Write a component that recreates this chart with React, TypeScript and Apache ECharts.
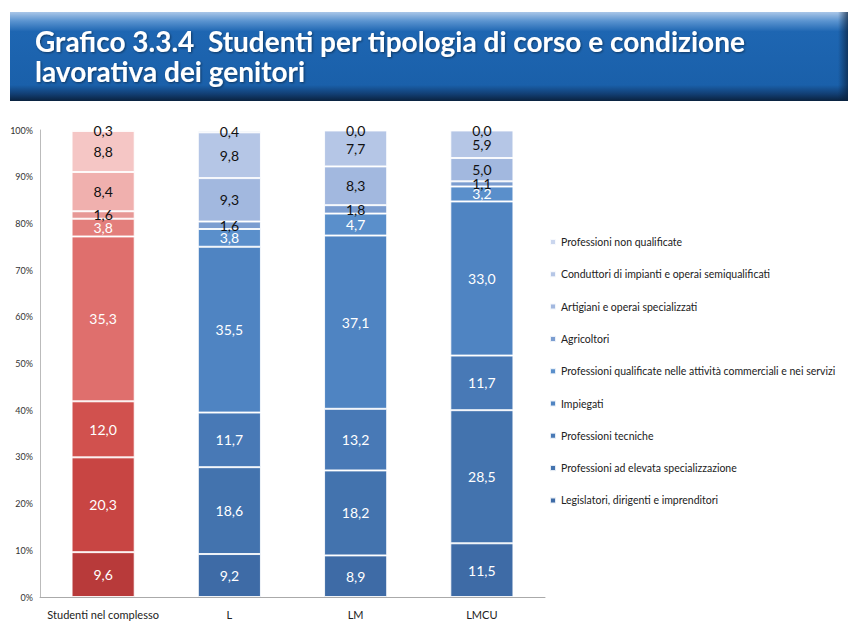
import React, { useEffect, useRef } from "react";
import * as echarts from "echarts";

const categories = ["Studenti nel complesso", "L", "LM", "LMCU"];
const seriesNames = [
  "Legislatori, dirigenti e imprenditori",
  "Professioni ad elevata specializzazione",
  "Professioni tecniche",
  "Impiegati",
  "Professioni qualificate nelle attività commerciali e nei servizi",
  "Agricoltori",
  "Artigiani e operai specializzati",
  "Conduttori di impianti e operai semiqualificati",
  "Professioni non qualificate",
];
const legislatori = [9.6, 9.2, 8.9, 11.5];
const elevata = [20.3, 18.6, 18.2, 28.5];
const tecniche = [12.0, 11.7, 13.2, 11.7];
const impiegati = [35.3, 35.5, 37.1, 33.0];
const qualificate = [3.8, 3.8, 4.7, 3.2];
const agricoltori = [1.6, 1.6, 1.8, 1.1];
const artigiani = [8.4, 9.3, 8.3, 5.0];
const conduttori = [8.8, 9.8, 7.7, 5.9];
const nonQualificate = [0.3, 0.4, 0.0, 0.0];
const seriesValues = [
  legislatori,
  elevata,
  tecniche,
  impiegati,
  qualificate,
  agricoltori,
  artigiani,
  conduttori,
  nonQualificate,
];
const yTicks = [0, 10, 20, 30, 40, 50, 60, 70, 80, 90, 100];

const blueColors = [
  "#3e6ba6",
  "#4373ae",
  "#4879b6",
  "#4f84c2",
  "#5a8fcb",
  "#7b9dd0",
  "#a2b8df",
  "#b5c6e6",
  "#cad6ee",
];
const redColors = [
  "#b83a3a",
  "#c84543",
  "#d1514e",
  "#df6f6d",
  "#e37e7b",
  "#e79896",
  "#f0b0ae",
  "#f5c6c5",
  "#f9d5d4",
];
const labelColors = ["#fff", "#fff", "#fff", "#fff", "#fff", "#111", "#111", "#111", "#111"];

const FONT = "Lato, 'Open Sans', sans-serif";

export default function App() {
  const ref = useRef<HTMLDivElement>(null);
  useEffect(() => {
    if (!ref.current) return;
    const chart = echarts.init(ref.current, null, { renderer: "svg" });
    const series = seriesNames.map((name, k) => ({
      name,
      type: "bar",
      stack: "total",
      barWidth: "50%",
      color: blueColors[k],
      itemStyle: { borderColor: "rgba(255,255,255,0.85)", borderWidth: 1 },
      label: {
        show: true,
        position: "inside",
        color: labelColors[k],
        fontFamily: FONT,
        fontSize: 14,
        formatter: (p: any) => Number(p.value).toFixed(1).replace(".", ","),
      },
      data: seriesValues[k].map((v, i) =>
        i === 0 ? { value: v, itemStyle: { color: redColors[k] } } : v
      ),
    }));
    chart.setOption({
      animation: false,
      backgroundColor: "#fff",
      graphic: [
        {
          type: "rect",
          shape: { x: 10, y: 12, width: 838, height: 89 },
          style: {
            fill: new echarts.graphic.LinearGradient(0, 0, 0, 1, [
              { offset: 0, color: "#a9c6e8" },
              { offset: 0.1, color: "#5b94d0" },
              { offset: 0.22, color: "#1e66b2" },
              { offset: 0.82, color: "#1a60aa" },
              { offset: 0.92, color: "#123f74" },
              { offset: 1, color: "#0a223f" },
            ]),
          },
        },
        {
          type: "rect",
          shape: { x: 838, y: 12, width: 10, height: 89 },
          style: {
            fill: new echarts.graphic.LinearGradient(0, 0, 1, 0, [
              { offset: 0, color: "rgba(10,34,63,0)" },
              { offset: 1, color: "rgba(10,34,63,0.7)" },
            ]),
          },
        },
        {
          type: "text",
          x: 35,
          y: 26,
          style: {
            text: "Grafico 3.3.4  Studenti per tipologia di corso e condizione\nlavorativa dei genitori",
            fill: "#fff",
            font: "bold 28px Lato, sans-serif",
            lineHeight: 30,
            textShadowColor: "rgba(0,0,0,0.45)",
            textShadowBlur: 2,
            textShadowOffsetX: 1,
            textShadowOffsetY: 1,
          },
        },
      ],
      legend: {
        orient: "vertical",
        left: 549,
        top: 235,
        padding: 0,
        itemWidth: 6,
        itemHeight: 6,
        itemGap: 18.3,
        icon: "rect",
        data: [...seriesNames].reverse(),
        textStyle: {
          fontFamily: FONT,
          fontSize: 10.5,
          color: "#222",
          lineHeight: 14,
        },
      },
      grid: { left: 40, right: 309, top: 130, bottom: 29 },
      xAxis: {
        type: "category",
        data: categories,
        axisLine: { lineStyle: { color: "#aaa" } },
        axisTick: { show: false },
        axisLabel: {
          interval: 0,
          color: "#222",
          fontFamily: FONT,
          fontSize: 11,
          margin: 12,
        },
      },
      yAxis: {
        type: "value",
        min: yTicks[0],
        max: yTicks[yTicks.length - 1],
        interval: 10,
        axisLine: { show: true, lineStyle: { color: "#bbb" } },
        axisTick: { show: false },
        splitLine: { show: false },
        axisLabel: {
          formatter: "{value}%",
          color: "#333",
          fontFamily: FONT,
          fontSize: 9,
          margin: 7,
        },
      },
      series,
    });
    return () => chart.dispose();
  }, []);
  return (
    <div
      ref={ref}
      style={{ position: "absolute", left: 0, top: 0, width: 854, height: 626 }}
    />
  );
}
